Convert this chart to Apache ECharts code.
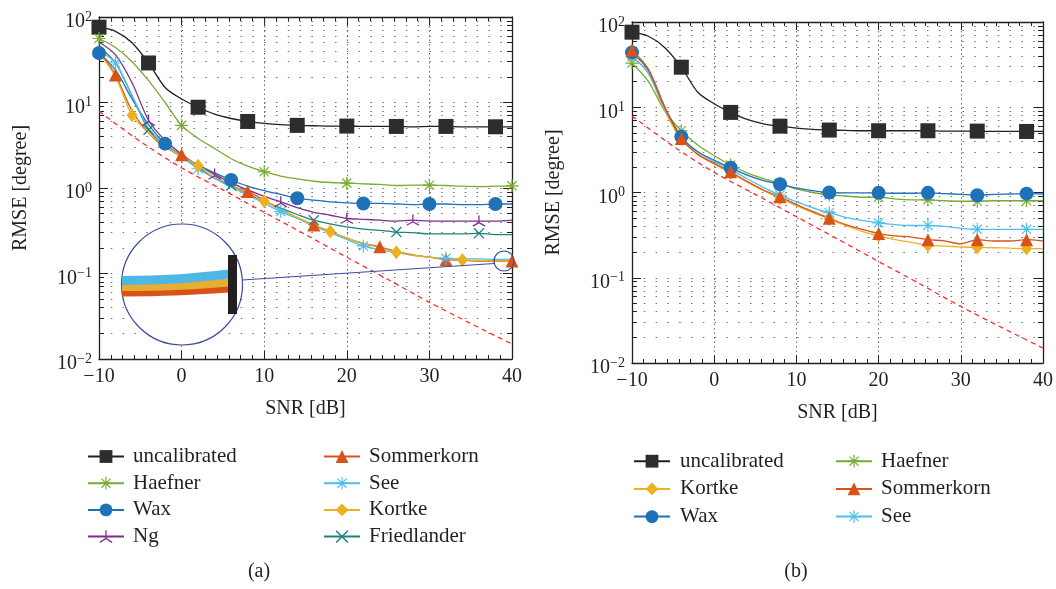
<!DOCTYPE html>
<html>
<head>
<meta charset="utf-8">
<style>
html, body { margin: 0; background: #fff; }
#chart { width: 1056px; height: 589px; }
</style>
<script src="https://cdn.jsdelivr.net/npm/echarts@6/dist/echarts.min.js"></script>
</head>
<body>
<div id="chart"></div>
<script>
const FONT = "'Liberation Serif', 'DejaVu Serif', serif"
const INK = '#231f20'
const GRID_DOT = '#6d6d6d'

const COLORS = {
  uncalibrated: '#231f20',
  Haefner: '#77ac30',
  Wax: '#1f72b8',
  Ng: '#7e2f8e',
  Sommerkorn: '#d95319',
  See: '#4dbeee',
  Kortke: '#edb120',
  Friedlander: '#1f8080',
  crb: '#ff2b2b',
}

// marker shapes (MATLAB style)
const STAR = 'path://M9.1 0H10.9V20H9.1Z M0 9.1H20V10.9H0Z M3.57 2.29L17.71 16.43L16.43 17.71L2.29 3.57Z M2.29 16.43L16.43 2.29L17.71 3.57L3.57 17.71Z'
const CROSS = 'path://M3.57 2.29L17.71 16.43L16.43 17.71L2.29 3.57Z M2.29 16.43L16.43 2.29L17.71 3.57L3.57 17.71Z'
const TRI_STAR = 'path://M9.1 0H10.9V10.5H9.1Z M10.45 9.22L19.11 14.22L18.21 15.78L9.55 10.78Z M10.45 10.78L1.79 15.78L0.89 14.22L9.55 9.22Z'

// ---- data ----
const snr = [-10, -8, -6, -4, -2, 0, 2, 4, 6, 8, 10, 12, 14, 16, 18, 20, 22, 24, 26, 28, 30, 32, 34, 36, 38, 40]
const crbSnr = [-10, -5, 0, 5, 10, 15, 20, 25, 30, 35, 40]
const crb = [7.9, 3.5, 1.72, 0.95, 0.52, 0.285, 0.155, 0.085, 0.046, 0.026, 0.015]

// (a)
const uncalA = [76, 68, 50, 29, 15, 11, 8.8, 7.3, 6.5, 6.0, 5.7, 5.5, 5.4, 5.35, 5.3, 5.3, 5.25, 5.25, 5.25, 5.2, 5.25, 5.25, 5.2, 5.2, 5.2, 5.2]
const haefnerA = [56, 44, 30, 18, 10, 5.4, 3.8, 2.9, 2.2, 1.8, 1.55, 1.38, 1.28, 1.2, 1.16, 1.14, 1.12, 1.1, 1.07, 1.08, 1.08, 1.07, 1.05, 1.04, 1.05, 1.06]
const waxA = [38, 24, 11, 5.5, 3.3, 2.4, 1.85, 1.5, 1.24, 1.05, 0.93, 0.84, 0.76, 0.72, 0.69, 0.67, 0.66, 0.66, 0.65, 0.64, 0.65, 0.65, 0.64, 0.64, 0.65, 0.65]
const ngA = [51, 36, 17, 6.2, 3.6, 2.5, 1.8, 1.45, 1.15, 0.95, 0.8, 0.69, 0.59, 0.52, 0.48, 0.44, 0.43, 0.42, 0.41, 0.42, 0.41, 0.41, 0.41, 0.41, 0.41, 0.42]
const sommerA = [40, 21, 8, 4.4, 3.0, 2.45, 1.75, 1.3, 1.05, 0.91, 0.72, 0.56, 0.45, 0.37, 0.31, 0.26, 0.225, 0.205, 0.18, 0.165, 0.155, 0.145, 0.143, 0.14, 0.14, 0.14]
const seeA = [40, 29, 12, 5, 3.2, 2.35, 1.68, 1.3, 1.02, 0.83, 0.66, 0.53, 0.44, 0.36, 0.3, 0.25, 0.21, 0.19, 0.175, 0.163, 0.155, 0.15, 0.148, 0.148, 0.146, 0.147]
const kortkeA = [38, 20, 7.1, 4.4, 3.1, 2.35, 1.82, 1.38, 1.08, 0.88, 0.7, 0.56, 0.45, 0.37, 0.31, 0.26, 0.225, 0.2, 0.177, 0.163, 0.155, 0.148, 0.144, 0.142, 0.141, 0.14]
const friedA = [45, 29, 12, 4.8, 3.1, 2.3, 1.7, 1.3, 1.07, 0.86, 0.7, 0.58, 0.49, 0.42, 0.38, 0.35, 0.33, 0.32, 0.305, 0.3, 0.29, 0.29, 0.29, 0.295, 0.285, 0.285]

// (b)
const uncalB = [76, 68, 50, 29.5, 15, 11, 8.7, 7.2, 6.4, 6.0, 5.7, 5.5, 5.4, 5.35, 5.3, 5.3, 5.3, 5.3, 5.3, 5.25, 5.25, 5.25, 5.2, 5.2, 5.2, 5.2]
const waxB = [44, 27, 10, 4.5, 3.0, 2.4, 1.95, 1.6, 1.38, 1.25, 1.13, 1.05, 1.0, 0.99, 0.99, 0.99, 0.98, 0.98, 0.99, 0.97, 0.95, 0.93, 0.95, 0.96, 0.97, 0.96]
const haefnerB = [33, 20, 9, 5.3, 3.6, 2.7, 2.1, 1.7, 1.45, 1.28, 1.1, 1.0, 0.935, 0.91, 0.88, 0.88, 0.84, 0.82, 0.82, 0.8, 0.79, 0.79, 0.8, 0.8, 0.8, 0.8]
const seeB = [39, 25, 9.5, 4.5, 3.0, 2.3, 1.87, 1.45, 1.15, 0.93, 0.78, 0.66, 0.58, 0.51, 0.47, 0.44, 0.42, 0.41, 0.41, 0.4, 0.38, 0.37, 0.37, 0.37, 0.37, 0.37]
const sommerB = [47, 28, 10, 4.3, 2.8, 2.2, 1.75, 1.35, 1.07, 0.89, 0.72, 0.6, 0.5, 0.42, 0.37, 0.33, 0.31, 0.3, 0.28, 0.27, 0.25, 0.28, 0.27, 0.27, 0.28, 0.27]
const kortkeB = [40, 25, 9, 4.2, 2.8, 2.15, 1.7, 1.32, 1.05, 0.86, 0.7, 0.58, 0.49, 0.41, 0.35, 0.31, 0.28, 0.26, 0.24, 0.235, 0.23, 0.226, 0.225, 0.222, 0.22, 0.22]

// indices of snr[] that carry a marker
const marksB = [0, 3, 6, 9, 12, 15, 18, 21, 24]

const yMinor = [0.02, 0.03, 0.04, 0.05, 0.06, 0.07, 0.08, 0.09,
  0.2, 0.3, 0.4, 0.5, 0.6, 0.7, 0.8, 0.9,
  2, 3, 4, 5, 6, 7, 8, 9,
  20, 30, 40, 50, 60, 70, 80, 90]

const STYLE = {
  uncalibrated: { symbol: 'rect', size: 15, fill: '#2d2d2d' },
  Haefner: { symbol: STAR, size: 13 },
  Wax: { symbol: 'circle', size: 14 },
  Ng: { symbol: TRI_STAR, size: 13 },
  Sommerkorn: { symbol: 'triangle', size: 13 },
  See: { symbol: STAR, size: 13 },
  Kortke: { symbol: 'diamond', size: [11, 14] },
  Friedlander: { symbol: CROSS, size: 11 },
}

function curve(name, values, marks, g) {
  const st = STYLE[name]
  return {
    type: 'line',
    name,
    xAxisIndex: g * 2,
    yAxisIndex: g * 2,
    data: snr.map((x, i) => [x, values[i]]),
    smooth: 0.3,
    symbol: st.symbol,
    symbolKeepAspect: true,
    symbolSize: (v, p) => (marks.includes(p.dataIndex) ? st.size : 0),
    showAllSymbol: true,
    lineStyle: { color: COLORS[name], width: 1.3 },
    itemStyle: { color: st.fill || COLORS[name], borderWidth: 0 },
    emphasis: { disabled: true },
    z: 3,
  }
}

function crbSeries(g) {
  return {
    type: 'line',
    name: 'CRB',
    xAxisIndex: g * 2,
    yAxisIndex: g * 2,
    data: crbSnr.map((x, i) => [x, crb[i]]),
    smooth: 0.3,
    symbol: 'none',
    lineStyle: { color: COLORS.crb, width: 1.3, type: [5, 4] },
    emphasis: { disabled: true },
    z: 2,
  }
}

// minor log grid rows and minor ticks on both sides
function gridSeries(g) {
  const rows = yMinor.map(v => ({ yAxis: v }))
  const ticks = []
  yMinor.forEach(v => {
    ticks.push([{ coord: [-10, v] }, { coord: [-9.4, v] }])
    ticks.push([{ coord: [40, v] }, { coord: [39.4, v] }])
  })
  return {
    type: 'line',
    name: '_grid',
    xAxisIndex: g * 2,
    yAxisIndex: g * 2,
    data: [],
    markLine: {
      z: 1,
      silent: true,
      animation: false,
      symbol: ['none', 'none'],
      label: { show: false },
      emphasis: { disabled: true },
      lineStyle: { color: GRID_DOT, width: 1, type: [1.5, 10.3] },
      data: [
        ...rows,
        ...ticks.map(t => [{ ...t[0], lineStyle: { color: INK, width: 1, type: 'solid' } }, t[1]]),
      ],
    },
  }
}

const fmtX = v => (v < 0 ? '\u2212' + (-v) : String(v))
const fmtY = v => {
  const e = Math.round(Math.log10(v))
  return '{b|10}{s|' + (e < 0 ? '\u2212' + (-e) : e) + '}'
}

function xAxes(g) {
  const base = {
    type: 'value',
    gridIndex: g,
    min: -10,
    max: 40,
    interval: 10,
    axisLine: { onZero: false, lineStyle: { color: INK, width: 1.3 } },
    axisTick: { inside: true, length: 8, lineStyle: { color: INK, width: 1 } },
    minorTick: { show: true, splitNumber: 7, length: 4, lineStyle: { color: INK, width: 1 } },
  }
  return [
    {
      ...base,
      position: 'bottom',
      axisLabel: { formatter: fmtX, fontFamily: FONT, fontSize: 20, color: INK, margin: 8 },
      splitLine: { show: true, lineStyle: { color: GRID_DOT, width: 1, type: [1.5, 3] } },
      name: 'SNR [dB]',
      nameLocation: 'middle',
      nameGap: 40,
      nameTextStyle: { fontFamily: FONT, fontSize: 20, color: INK },
    },
    { ...base, position: 'top', axisLabel: { show: false }, splitLine: { show: false } },
  ]
}

function yAxes(g) {
  const base = {
    type: 'log',
    gridIndex: g,
    logBase: 10,
    min: 0.01,
    max: 100,
    axisLine: { show: true, onZero: false, lineStyle: { color: INK, width: 1.3 } },
    axisTick: { show: true, inside: true, length: 9, lineStyle: { color: INK, width: 1 } },
  }
  return [
    {
      ...base,
      position: 'left',
      axisLabel: {
        formatter: fmtY,
        margin: 7,
        padding: [8, 0, 0, 0],
        rich: {
          b: { fontFamily: FONT, fontSize: 20, color: INK, lineHeight: 22, verticalAlign: 'bottom' },
          s: { fontFamily: FONT, fontSize: 14, color: INK, lineHeight: 14, verticalAlign: 'top' },
        },
      },
      splitLine: { show: true, lineStyle: { color: GRID_DOT, width: 1, type: [1.5, 10.3] } },
      name: 'RMSE [degree]',
      nameLocation: 'middle',
      nameGap: 68,
      nameTextStyle: { fontFamily: FONT, fontSize: 20, color: INK },
    },
    { ...base, position: 'right', axisLabel: { show: false }, splitLine: { show: false } },
  ]
}

function legend(names, left, top, gap, pad) {
  return {
    orient: 'vertical',
    left,
    top,
    padding: 0,
    itemGap: gap,
    itemWidth: 36,
    itemHeight: 16,
    selectedMode: false,
    data: names,
    textStyle: { fontFamily: FONT, fontSize: 21, color: INK, lineHeight: 20, padding: [0, 0, 0, pad] },
  }
}

const series = [
  gridSeries(0),
  crbSeries(0),
  curve('uncalibrated', uncalA, [0, 3, 6, 9, 12, 15, 18, 21, 24], 0),
  curve('Haefner', haefnerA, [0, 5, 10, 15, 20, 25], 0),
  curve('Ng', ngA, [3, 7, 11, 15, 19, 23], 0),
  curve('Friedlander', friedA, [3, 8, 13, 18, 23], 0),
  curve('Wax', waxA, [0, 4, 8, 12, 16, 20, 24], 0),
  curve('Sommerkorn', sommerA, [1, 5, 9, 13, 17, 21, 25], 0),
  curve('See', seeA, [1, 6, 11, 16, 21], 0),
  curve('Kortke', kortkeA, [2, 6, 10, 14, 18, 22], 0),

  gridSeries(1),
  crbSeries(1),
  curve('uncalibrated', uncalB, marksB, 1),
  curve('Haefner', haefnerB, marksB, 1),
  curve('Kortke', kortkeB, marksB, 1),
  curve('See', seeB, marksB, 1),
  curve('Wax', waxB, marksB, 1),
  curve('Sommerkorn', sommerB, marksB, 1),
]

// magnified inset of the 40 dB end in (a)
const LENS = '#3a4ca0'
const inset = [
  { type: 'circle', z: 20, shape: { cx: 182, cy: 284.5, r: 60.5 }, style: { fill: '#fff', stroke: LENS, lineWidth: 1.2 } },
  { type: 'polyline', z: 21, shape: { points: [[122, 292.5], [175, 291.5], [229, 288.5]], smooth: 0.4 }, style: { stroke: COLORS.Sommerkorn, lineWidth: 8, fill: null } },
  { type: 'polyline', z: 22, shape: { points: [[122, 287], [175, 286], [229, 282.5]], smooth: 0.4 }, style: { stroke: '#e6ae33', lineWidth: 8, fill: null } },
  { type: 'polyline', z: 23, shape: { points: [[122, 280.5], [175, 279], [229, 274]], smooth: 0.4 }, style: { stroke: '#4db8e6', lineWidth: 9, fill: null } },
  { type: 'rect', z: 24, shape: { x: 228, y: 255, width: 9, height: 59 }, style: { fill: INK } },
  { type: 'line', z: 20, shape: { x1: 242, y1: 280, x2: 494.5, y2: 263.5 }, style: { stroke: LENS, lineWidth: 1.2 } },
  { type: 'circle', z: 20, shape: { cx: 504, cy: 261, r: 10 }, style: { fill: null, stroke: LENS, lineWidth: 1.2 } },
  { type: 'text', z: 20, x: 259, y: 572, style: { text: '(a)', fontFamily: FONT, fontSize: 20, fill: INK, align: 'center', verticalAlign: 'middle' } },
  { type: 'text', z: 20, x: 796, y: 572, style: { text: '(b)', fontFamily: FONT, fontSize: 20, fill: INK, align: 'center', verticalAlign: 'middle' } },
]

const chart = echarts.init(document.getElementById('chart'))
chart.setOption({
  animation: false,
  backgroundColor: '#fff',
  grid: [
    { left: 99, top: 17, width: 413, height: 342 },
    { left: 632, top: 22, width: 413, height: 341 },
  ],
  xAxis: [...xAxes(0), ...xAxes(1)],
  yAxis: [...yAxes(0), ...yAxes(1)],
  legend: [
    legend(['uncalibrated', 'Haefner', 'Wax', 'Ng'], 87, 446, 5.7, 4),
    legend(['Sommerkorn', 'See', 'Kortke', 'Friedlander'], 323, 446, 5.7, 4),
    legend(['uncalibrated', 'Kortke', 'Wax'], 633, 450.7, 6.7, 5),
    legend(['Haefner', 'Sommerkorn', 'See'], 835, 450.7, 6.7, 4),
  ],
  series,
  graphic: inset,
})
</script>
</body>
</html>
